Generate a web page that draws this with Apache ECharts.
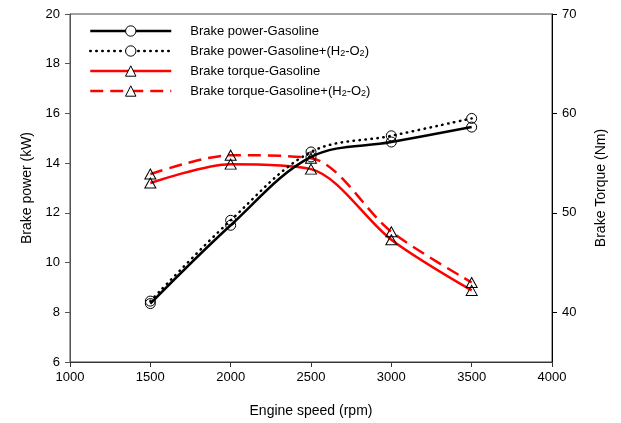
<!DOCTYPE html>
<html><head><meta charset="utf-8">
<script src="https://cdn.jsdelivr.net/npm/echarts@6/dist/echarts.min.js"></script>
<style>html,body{margin:0;padding:0;background:#fff}#c{width:621px;height:423px}</style>
</head><body><div id="c"></div>
<script>
const rpm = [1500, 2000, 2500, 3000, 3500];
const powerGas = [8.35, 11.5, 14.25, 14.85, 15.45];
const powerGasH2 = [8.45, 11.7, 14.45, 15.1, 15.8];
const torqueGas = [53.0, 54.9, 54.4, 47.3, 42.2];
const torqueGasH2 = [53.9, 55.8, 55.5, 48.1, 43.0];
const xTicks = [1000, 1500, 2000, 2500, 3000, 3500, 4000];
const leftTicks = [6, 8, 10, 12, 14, 16, 18, 20];
const rightTicks = [40, 50, 60, 70];
const names = ['Brake power-Gasoline', 'Brake power-Gasoline+(H2-O2)', 'Brake torque-Gasoline', 'Brake torque-Gasoline+(H2-O2)'];

const font = 'Liberation Sans, Arial, sans-serif';
const pairs = (ys) => rpm.map((x, i) => [x, ys[i]]);
const hollow = { color: 'rgba(0,0,0,0)', borderColor: '#000', borderWidth: 1 };
const legendHollow = { color: '#fff', borderColor: '#000', borderWidth: 1 };

const chart = echarts.init(document.getElementById('c'), null, { renderer: 'canvas' });
chart.setOption({
  animation: false,
  backgroundColor: '#fff',
  grid: { left: 70, right: 69, top: 14, bottom: 61, show: true, borderColor: '#444', borderWidth: 1 },
  legend: {
    orient: 'vertical', left: 89, top: 24, padding: 0, itemWidth: 81, itemHeight: 13, itemGap: 6,
    data: names.map((n, i) => ({
      name: n,
      itemStyle: legendHollow,
      lineStyle: { width: 2.5 }
    })),
    textStyle: {
      fontFamily: font, fontSize: 13, color: '#000', lineHeight: 14, padding: [0, 0, 0, 14],
      rich: { sub: { fontFamily: font, fontSize: 9, color: '#000', verticalAlign: 'bottom', padding: [6, 0, 0, 0] } }
    },
    formatter: (n) => n.replace(/H2-O2/, 'H{sub|2}-O{sub|2}')
  },
  xAxis: {
    type: 'value', min: 1000, max: 4000, interval: 500,
    name: 'Engine speed (rpm)', nameLocation: 'middle', nameGap: 42,
    nameTextStyle: { fontFamily: font, fontSize: 14, color: '#000' },
    axisLine: { lineStyle: { color: '#333' } },
    axisTick: { show: true, length: 5, inside: false, lineStyle: { color: '#333' } },
    axisLabel: { fontFamily: font, fontSize: 13, color: '#000', margin: 9, customValues: xTicks, formatter: (v) => String(v) },
    splitLine: { show: false }
  },
  yAxis: [{
    type: 'value', min: 6, max: 20, interval: 2,
    name: 'Brake power (kW)', nameLocation: 'middle', nameGap: 36, nameRotate: 90,
    nameTextStyle: { fontFamily: font, fontSize: 14, color: '#000' },
    axisLine: { show: true, lineStyle: { color: '#555' } },
    axisTick: { show: true, length: 5, lineStyle: { color: '#555' } },
    axisLabel: { fontFamily: font, fontSize: 13, color: '#000', margin: 10, customValues: leftTicks },
    splitLine: { show: false }
  }, {
    type: 'value', min: 35, max: 70, position: 'right',
    name: 'Brake Torque (Nm)', nameLocation: 'middle', nameGap: 42, nameRotate: 90,
    nameTextStyle: { fontFamily: font, fontSize: 14, color: '#000' },
    axisLine: { show: true, lineStyle: { color: '#000' } },
    axisTick: { show: true, length: 5, lineStyle: { color: '#000' }, customValues: rightTicks },
    axisLabel: { fontFamily: font, fontSize: 13, color: '#000', margin: 10, customValues: rightTicks },
    splitLine: { show: false }
  }],
  series: [{
    name: names[0], type: 'line', yAxisIndex: 0, data: pairs(powerGas), smooth: 0.35,
    symbol: 'circle', symbolSize: 10, itemStyle: hollow,
    lineStyle: { color: '#000', width: 2.5 }, z: 3
  }, {
    name: names[1], type: 'line', yAxisIndex: 0, data: pairs(powerGasH2), smooth: 0.35,
    symbol: 'circle', symbolSize: 10, itemStyle: hollow,
    lineStyle: { color: '#000', width: 2.5, type: [0.5, 5.5], cap: 'round' }, z: 3
  }, {
    name: names[2], type: 'line', yAxisIndex: 1, data: pairs(torqueGas), smooth: 0.3,
    symbol: 'triangle', symbolSize: [11, 10], itemStyle: hollow,
    lineStyle: { color: '#ff0000', width: 2.5 }, z: 2
  }, {
    name: names[3], type: 'line', yAxisIndex: 1, data: pairs(torqueGasH2), smooth: 0.3,
    symbol: 'triangle', symbolSize: [11, 10], itemStyle: hollow,
    lineStyle: { color: '#ff0000', width: 2.5, type: [13, 7] }, z: 2
  }]
});
</script></body></html>
